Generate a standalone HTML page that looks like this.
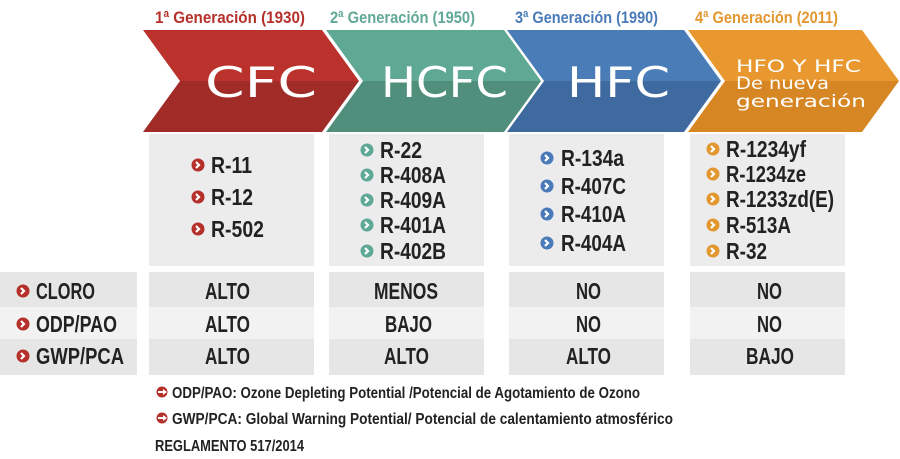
<!DOCTYPE html>
<html><head><meta charset="utf-8"><style>
html,body{margin:0;padding:0;background:#fff;width:900px;height:459px;overflow:hidden}
svg{display:block}
text{font-family:"Liberation Sans Narrow","Liberation Sans",sans-serif;font-weight:bold}
text.thin{font-family:"DejaVu Sans",sans-serif;font-weight:normal}
.b{fill:#222}
</style></head><body>
<svg width="900" height="459" viewBox="0 0 900 459" xmlns="http://www.w3.org/2000/svg">
<defs>
<linearGradient id="gr" x1="0" y1="0" x2="0" y2="1"><stop offset="0.5" stop-color="#bb312b"/><stop offset="0.5" stop-color="#a02b27"/></linearGradient>
<linearGradient id="gt" x1="0" y1="0" x2="0" y2="1"><stop offset="0.5" stop-color="#5fa894"/><stop offset="0.5" stop-color="#4f8f7b"/></linearGradient>
<linearGradient id="gb" x1="0" y1="0" x2="0" y2="1"><stop offset="0.5" stop-color="#4a7cb8"/><stop offset="0.5" stop-color="#3f6aa0"/></linearGradient>
<linearGradient id="go" x1="0" y1="0" x2="0" y2="1"><stop offset="0.5" stop-color="#e8982e"/><stop offset="0.5" stop-color="#d78624"/></linearGradient>
</defs>
<text x="155" y="23" font-size="17" fill="#b5302a" textLength="150" lengthAdjust="spacingAndGlyphs">1ª Generación (1930)</text>
<text x="330" y="23" font-size="17" fill="#62a896" textLength="145" lengthAdjust="spacingAndGlyphs">2ª Generación (1950)</text>
<text x="515" y="23" font-size="17" fill="#4a7bb8" textLength="143" lengthAdjust="spacingAndGlyphs">3ª Generación (1990)</text>
<text x="695" y="23" font-size="17" fill="#e3972f" textLength="143" lengthAdjust="spacingAndGlyphs">4ª Generación (2011)</text>
<polygon points="143,30 322,30 359,81 322,132 143,132 180,81" fill="url(#gr)"/>
<polygon points="326,30 504,30 541,81 504,132 326,132 363,81" fill="url(#gt)"/>
<polygon points="507,30 684,30 721,81 684,132 507,132 544,81" fill="url(#gb)"/>
<polygon points="688,30 862,30 899,81 862,132 688,132 725,81" fill="url(#go)"/>
<g fill="#fff">
<text class="thin" x="205" y="97" font-size="42" textLength="112" lengthAdjust="spacingAndGlyphs">CFC</text>
<text class="thin" x="381" y="97" font-size="42" textLength="127" lengthAdjust="spacingAndGlyphs">HCFC</text>
<text class="thin" x="567" y="97" font-size="42" textLength="103" lengthAdjust="spacingAndGlyphs">HFC</text>
<text class="thin" x="736" y="72" font-size="17" textLength="125" lengthAdjust="spacingAndGlyphs">HFO Y HFC</text>
<text class="thin" x="736" y="89" font-size="17" textLength="93" lengthAdjust="spacingAndGlyphs">De nueva</text>
<text class="thin" x="736" y="107" font-size="17" textLength="130" lengthAdjust="spacingAndGlyphs">generación</text>
</g>
<g fill="#ececec">
<rect x="149" y="134" width="165" height="132"/>
<rect x="329" y="134" width="155" height="132"/>
<rect x="509" y="134" width="155" height="132"/>
<rect x="690" y="134" width="155" height="132"/>
</g>
<g>
<rect x="0" y="272" width="137" height="35" fill="#e6e6e6"/><rect x="0" y="307" width="137" height="32" fill="#f2f2f2"/><rect x="0" y="339" width="137" height="36" fill="#e6e6e6"/>
<rect x="149" y="272" width="165" height="35" fill="#e6e6e6"/><rect x="149" y="307" width="165" height="32" fill="#f2f2f2"/><rect x="149" y="339" width="165" height="36" fill="#e6e6e6"/>
<rect x="329" y="272" width="155" height="35" fill="#e6e6e6"/><rect x="329" y="307" width="155" height="32" fill="#f2f2f2"/><rect x="329" y="339" width="155" height="36" fill="#e6e6e6"/>
<rect x="509" y="272" width="155" height="35" fill="#e6e6e6"/><rect x="509" y="307" width="155" height="32" fill="#f2f2f2"/><rect x="509" y="339" width="155" height="36" fill="#e6e6e6"/>
<rect x="690" y="272" width="155" height="35" fill="#e6e6e6"/><rect x="690" y="307" width="155" height="32" fill="#f2f2f2"/><rect x="690" y="339" width="155" height="36" fill="#e6e6e6"/>
</g>
<g>
<g fill="#b5302a"><circle cx="198" cy="165" r="6.5"/><circle cx="198" cy="197" r="6.5"/><circle cx="198" cy="229" r="6.5"/></g>
<g fill="#5fa896"><circle cx="367" cy="150" r="6.5"/><circle cx="367" cy="175" r="6.5"/><circle cx="367" cy="200" r="6.5"/><circle cx="367" cy="225" r="6.5"/><circle cx="367" cy="251" r="6.5"/></g>
<g fill="#4a7bb8"><circle cx="547" cy="158" r="6.5"/><circle cx="547" cy="186" r="6.5"/><circle cx="547" cy="214" r="6.5"/><circle cx="547" cy="243" r="6.5"/></g>
<g fill="#e3972f"><circle cx="713" cy="149" r="6.5"/><circle cx="713" cy="174" r="6.5"/><circle cx="713" cy="199" r="6.5"/><circle cx="713" cy="225" r="6.5"/><circle cx="713" cy="251" r="6.5"/></g>
<g fill="#b5302a"><circle cx="23" cy="291" r="6.5"/><circle cx="23" cy="324" r="6.5"/><circle cx="23" cy="356" r="6.5"/></g>
</g>
<g stroke="#fff" stroke-width="2.2" fill="none">
<path d="M196,162 l3,3 l-3,3 M196,194 l3,3 l-3,3 M196,226 l3,3 l-3,3"/>
<path d="M365,147 l3,3 l-3,3 M365,172 l3,3 l-3,3 M365,197 l3,3 l-3,3 M365,222 l3,3 l-3,3 M365,248 l3,3 l-3,3"/>
<path d="M545,155 l3,3 l-3,3 M545,183 l3,3 l-3,3 M545,211 l3,3 l-3,3 M545,240 l3,3 l-3,3"/>
<path d="M711,146 l3,3 l-3,3 M711,171 l3,3 l-3,3 M711,196 l3,3 l-3,3 M711,222 l3,3 l-3,3 M711,248 l3,3 l-3,3"/>
<path d="M21,288 l3,3 l-3,3 M21,321 l3,3 l-3,3 M21,353 l3,3 l-3,3"/>
</g>
<g class="b" font-size="23">
<text x="211" y="173" textLength="41" lengthAdjust="spacingAndGlyphs">R-11</text>
<text x="211" y="205" textLength="42" lengthAdjust="spacingAndGlyphs">R-12</text>
<text x="211" y="237" textLength="53" lengthAdjust="spacingAndGlyphs">R-502</text>
<text x="380" y="158" textLength="42" lengthAdjust="spacingAndGlyphs">R-22</text>
<text x="380" y="183" textLength="66" lengthAdjust="spacingAndGlyphs">R-408A</text>
<text x="380" y="208" textLength="66" lengthAdjust="spacingAndGlyphs">R-409A</text>
<text x="380" y="233" textLength="66" lengthAdjust="spacingAndGlyphs">R-401A</text>
<text x="380" y="259" textLength="66" lengthAdjust="spacingAndGlyphs">R-402B</text>
<text x="561" y="166" textLength="63" lengthAdjust="spacingAndGlyphs">R-134a</text>
<text x="561" y="194" textLength="65" lengthAdjust="spacingAndGlyphs">R-407C</text>
<text x="561" y="222" textLength="65" lengthAdjust="spacingAndGlyphs">R-410A</text>
<text x="561" y="251" textLength="65" lengthAdjust="spacingAndGlyphs">R-404A</text>
<text x="726" y="157" textLength="80" lengthAdjust="spacingAndGlyphs">R-1234yf</text>
<text x="726" y="182" textLength="80" lengthAdjust="spacingAndGlyphs">R-1234ze</text>
<text x="726" y="207" textLength="108" lengthAdjust="spacingAndGlyphs">R-1233zd(E)</text>
<text x="726" y="233" textLength="65" lengthAdjust="spacingAndGlyphs">R-513A</text>
<text x="726" y="259" textLength="41" lengthAdjust="spacingAndGlyphs">R-32</text>
</g>
<g class="b" font-size="23">
<text x="36" y="299" textLength="59" lengthAdjust="spacingAndGlyphs">CLORO</text>
<text x="36" y="332" textLength="81" lengthAdjust="spacingAndGlyphs">ODP/PAO</text>
<text x="36" y="364" textLength="88" lengthAdjust="spacingAndGlyphs">GWP/PCA</text>
</g>
<g class="b" font-size="23">
<text x="205" y="299" textLength="45" lengthAdjust="spacingAndGlyphs">ALTO</text><text x="205" y="332" textLength="45" lengthAdjust="spacingAndGlyphs">ALTO</text><text x="205" y="364" textLength="45" lengthAdjust="spacingAndGlyphs">ALTO</text>
<text x="374" y="299" textLength="64" lengthAdjust="spacingAndGlyphs">MENOS</text><text x="385" y="332" textLength="47" lengthAdjust="spacingAndGlyphs">BAJO</text><text x="384" y="364" textLength="45" lengthAdjust="spacingAndGlyphs">ALTO</text>
<text x="576" y="299" textLength="25" lengthAdjust="spacingAndGlyphs">NO</text><text x="576" y="332" textLength="25" lengthAdjust="spacingAndGlyphs">NO</text><text x="566" y="364" textLength="45" lengthAdjust="spacingAndGlyphs">ALTO</text>
<text x="757" y="299" textLength="25" lengthAdjust="spacingAndGlyphs">NO</text><text x="757" y="332" textLength="25" lengthAdjust="spacingAndGlyphs">NO</text><text x="746" y="364" textLength="48" lengthAdjust="spacingAndGlyphs">BAJO</text>
</g>
<g fill="#b5302a"><circle cx="162" cy="392" r="5.5"/><circle cx="162" cy="418" r="5.5"/></g>
<g fill="#fff"><rect x="158" y="391" width="6" height="2"/><polygon points="163,389 167,392 163,395"/><rect x="158" y="417" width="6" height="2"/><polygon points="163,415 167,418 163,421"/></g>
<g class="b" font-size="16">
<text x="172" y="398" textLength="468" lengthAdjust="spacingAndGlyphs">ODP/PAO: Ozone Depleting Potential /Potencial de Agotamiento de Ozono</text>
<text x="172" y="424" textLength="501" lengthAdjust="spacingAndGlyphs">GWP/PCA: Global Warning Potential/ Potencial de calentamiento atmosférico</text>
<text x="155" y="451" textLength="149" lengthAdjust="spacingAndGlyphs">REGLAMENTO 517/2014</text>
</g>
</svg>
</body></html>
